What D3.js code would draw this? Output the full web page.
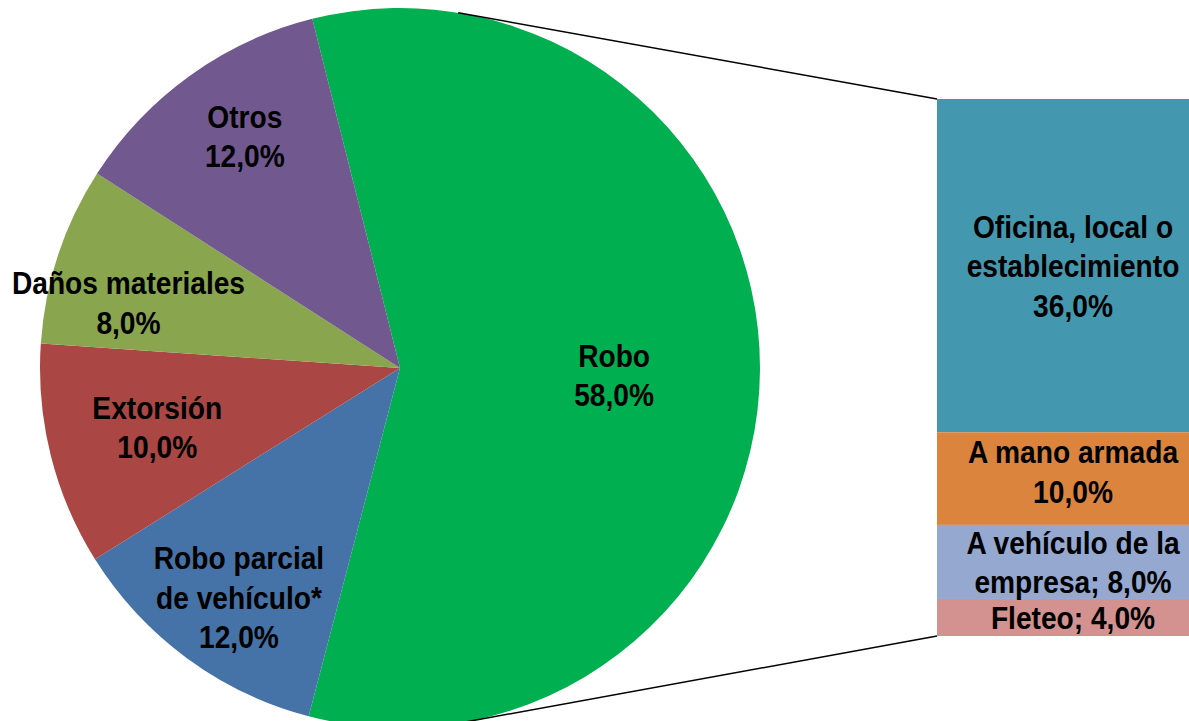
<!DOCTYPE html>
<html>
<head>
<meta charset="utf-8">
<script src="https://cdn.jsdelivr.net/npm/d3@7"></script>
<style>
  body { margin: 0; background: #fff; }
  text { font-family: "Liberation Sans", Arial, sans-serif; font-weight: bold; font-size: 32px; fill: #000; }
</style>
</head>
<body>
<div id="vis"></div>
<script>
// pie data
const pieNames = ["Robo", "Robo parcial\nde vehículo*", "Extorsión", "Daños materiales", "Otros"];
const pieValues = [58, 12, 10, 8, 12];
const pieColors = ["#00B050", "#4572A7", "#AA4643", "#89A54E", "#71588F"];

// breakdown of Robo
const barNames = ["Oficina, local o\nestablecimiento", "A mano armada", "A vehículo de la\nempresa; 8,0%", "Fleteo; 4,0%"];
const barValues = [36, 10, 8, 4];
const barColors = ["#4398AF", "#DB843D", "#95A9D0", "#D39190"];

const svg = d3.select("#vis")
    .append("svg")
    .attr("width", 1189)
    .attr("height", 721);

const cx = 400, cy = 368, r = 360;
const sx = 0.88; // squeeze text to look like a narrow face
const fmt = v => d3.format(".1f")(v).replace(".", ",") + "%";

function label(parent, x, yc, lines, lh) {
    const t = parent.append("text")
        .attr("text-anchor", "middle")
        .attr("transform", `translate(${x},${yc - (lines.length - 1) * lh / 2 + 11.5}) scale(${sx},1)`);
    lines.forEach((s, j) => {
        t.append("tspan").attr("x", 0).attr("dy", j ? lh : 0).text(s);
    });
}

const pie = d3.pie()
    .sort(null)
    .value(d => d)
    .startAngle(-14.1 * Math.PI / 180)
    .endAngle((360 - 14.1) * Math.PI / 180);

const arc = d3.arc().innerRadius(0).outerRadius(r);
const arcs = pie(pieValues);

const g = svg.append("g").attr("transform", `translate(${cx},${cy})`);

g.selectAll("path")
    .data(arcs)
    .enter()
    .append("path")
    .attr("d", arc)
    .attr("fill", (d, i) => pieColors[i]);

// label distance (share of radius) and angle nudge (deg)
const labelR = [0.595, 0.778, 0.694, 0.776, 0.775];
const labelShift = [1.6, -1.2, 0.4, -4.7, 1.9];

arcs.forEach((d, i) => {
    const a = (d.startAngle + d.endAngle) / 2 + labelShift[i] * Math.PI / 180;
    const x = Math.sin(a) * r * labelR[i];
    const y = -Math.cos(a) * r * labelR[i];
    const lines = pieNames[i].split("\n").concat([fmt(pieValues[i])]);
    label(g, x, y, lines, 39.5);
});

// bar of pie
const barX = 937, barW = 270;
const y = d3.scaleLinear()
    .domain([0, d3.sum(barValues)])
    .range([99, 636]);

let acc = 0;
const stack = barValues.map(v => { const s = acc; acc += v; return [s, acc]; });

svg.selectAll("rect.seg")
    .data(stack)
    .enter()
    .append("rect")
    .attr("class", "seg")
    .attr("x", barX)
    .attr("y", d => y(d[0]))
    .attr("width", barW)
    .attr("height", d => y(d[1]) - y(d[0]))
    .attr("fill", (d, i) => barColors[i]);

stack.forEach((d, i) => {
    const lines = barNames[i].split("\n");
    if (!/%/.test(barNames[i])) lines.push(fmt(barValues[i]));
    const mid = (y(d[0]) + y(d[1])) / 2 - (i === 1 ? 7 : 0);
    label(svg, barX + 136, mid, lines, i >= 2 ? 38.5 : 39.5);
});

// connector lines
const connAngles = [9.3, 170.7];
const ends = [y(0), y(d3.sum(barValues))];
connAngles.forEach((a, i) => {
    const rad = a * Math.PI / 180;
    svg.append("line")
        .attr("x1", cx + Math.sin(rad) * r)
        .attr("y1", cy - Math.cos(rad) * r)
        .attr("x2", barX)
        .attr("y2", ends[i])
        .attr("stroke", "#000")
        .attr("stroke-width", 1.5);
});
</script>
</body>
</html>
